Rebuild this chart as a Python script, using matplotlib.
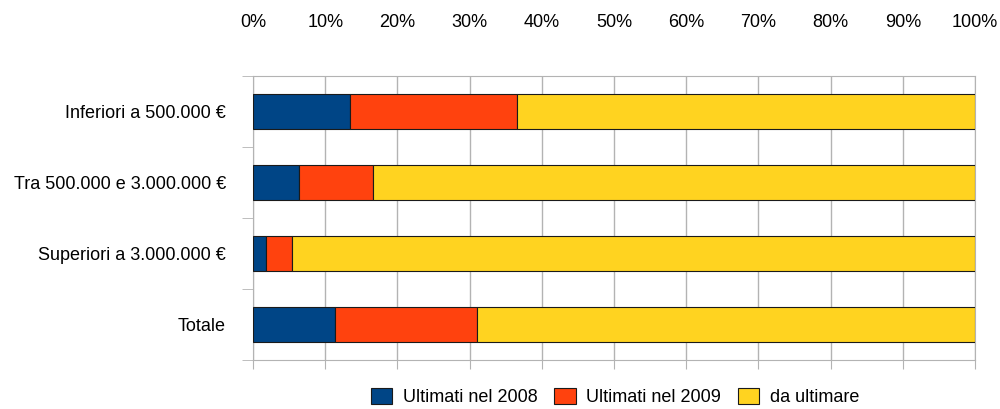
import matplotlib
matplotlib.use("Agg")
import matplotlib.pyplot as plt
import numpy as np
from matplotlib.patches import Patch

categories = ["Inferiori a 500.000 €", "Tra 500.000 e 3.000.000 €", "Superiori a 3.000.000 €", "Totale"]
series_names = ["Ultimati nel 2008", "Ultimati nel 2009", "da ultimare"]
ult_2008 = [13.4, 6.4, 1.8, 11.4]
ult_2009 = [23.1, 10.2, 3.6, 19.6]
da_ultimare = [63.5, 83.4, 94.6, 69.0]
colors = ["#004586", "#ff420e", "#ffd320"]
xticks = list(range(0, 101, 10))
xticklabels = [f"{v}%" for v in xticks]

plt.rcParams['font.family'] = ['Liberation Sans', 'DejaVu Sans']

fig = plt.figure(figsize=(10, 4.09), dpi=100)
ax = fig.add_axes([0.253, 1 - 360/409, 0.722, (360-76)/409])

y = np.arange(len(categories))
left = np.zeros(len(categories))
for vals, c, name in zip([ult_2008, ult_2009, da_ultimare], colors, series_names):
    ax.barh(y, vals, left=left, height=0.5, color=c, edgecolor="#1a1a1a", linewidth=0.8, label=name, zorder=3)
    left += np.array(vals)

ax.set_xlim(0, 100)
ax.set_ylim(len(categories) - 0.5, -0.5)
ax.set_xticks(xticks)
ax.set_xticklabels(xticklabels)
ax.set_yticks(y)
ax.set_yticklabels(categories)
ax.set_yticks(np.arange(-0.5, len(categories), 1), minor=True)

ax.grid(axis="x", color="#b3b3b3", linewidth=1, zorder=0)
for s in ["top", "bottom", "left", "right"]:
    ax.spines[s].set_color("#b3b3b3")

ax.tick_params(axis="x", which="major", top=False, bottom=True, labeltop=True, labelbottom=False,
               length=6.5, color="#b3b3b3", labelsize=13, pad=26, direction="out")
ax.tick_params(axis="y", which="major", left=False, labelsize=13, pad=16)
ax.tick_params(axis="y", which="minor", left=True, length=8, color="#b3b3b3")

handles = [Patch(facecolor=c, edgecolor="#1a1a1a", linewidth=0.8) for c in colors]
fig.legend(handles, series_names, loc="center", bbox_to_anchor=(0.615, 1 - 397/409), ncol=3,
           frameon=False, fontsize=13, handlelength=1.2, handleheight=1.0, handletextpad=0.6,
           columnspacing=0.9)

fig.savefig("out.png", dpi=100)
